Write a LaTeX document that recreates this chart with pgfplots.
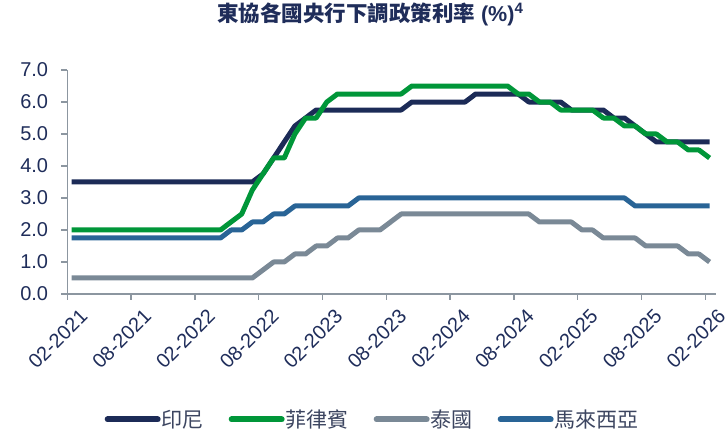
\documentclass[border=0pt]{standalone}
\usepackage{fontspec}
\setmainfont{Liberation Sans}
\newfontfamily\cjk{Noto Sans CJK TC}
\usepackage{pgfplots}
\pgfplotsset{compat=1.18}
\usepackage{pgfplotstable}
\definecolor{idn}{HTML}{1C2B57}
\definecolor{phl}{HTML}{009639}
\definecolor{tha}{HTML}{7A8996}
\definecolor{mys}{HTML}{296496}
\definecolor{axisgray}{HTML}{8C96A0}
\definecolor{txt}{HTML}{1F2D5A}
\definecolor{legtxt}{HTML}{3C4560}
\pgfplotstableread{
x    idn   phl   tha   mys
0.4  3.50  2.00  0.50  1.75
1.4  3.50  2.00  0.50  1.75
2.4  3.50  2.00  0.50  1.75
3.4  3.50  2.00  0.50  1.75
4.4  3.50  2.00  0.50  1.75
5.4  3.50  2.00  0.50  1.75
6.4  3.50  2.00  0.50  1.75
7.4  3.50  2.00  0.50  1.75
8.4  3.50  2.00  0.50  1.75
9.4  3.50  2.00  0.50  1.75
10.4 3.50  2.00  0.50  1.75
11.4 3.50  2.00  0.50  1.75
12.4 3.50  2.00  0.50  1.75
13.4 3.50  2.00  0.50  1.75
14.4 3.50  2.00  0.50  1.75
15.4 3.50  2.25  0.50  2.00
16.4 3.50  2.50  0.50  2.00
17.4 3.50  3.25  0.50  2.25
18.4 3.75  3.75  0.75  2.25
19.4 4.25  4.25  1.00  2.50
20.4 4.75  4.25  1.00  2.50
21.4 5.25  5.00  1.25  2.75
22.4 5.50  5.50  1.25  2.75
23.4 5.75  5.50  1.50  2.75
24.4 5.75  6.00  1.50  2.75
25.4 5.75  6.25  1.75  2.75
26.4 5.75  6.25  1.75  2.75
27.4 5.75  6.25  2.00  3.00
28.4 5.75  6.25  2.00  3.00
29.4 5.75  6.25  2.00  3.00
30.4 5.75  6.25  2.25  3.00
31.4 5.75  6.25  2.50  3.00
32.4 6.00  6.50  2.50  3.00
33.4 6.00  6.50  2.50  3.00
34.4 6.00  6.50  2.50  3.00
35.4 6.00  6.50  2.50  3.00
36.4 6.00  6.50  2.50  3.00
37.4 6.00  6.50  2.50  3.00
38.4 6.25  6.50  2.50  3.00
39.4 6.25  6.50  2.50  3.00
40.4 6.25  6.50  2.50  3.00
41.4 6.25  6.50  2.50  3.00
42.4 6.25  6.25  2.50  3.00
43.4 6.00  6.25  2.50  3.00
44.4 6.00  6.00  2.25  3.00
45.4 6.00  6.00  2.25  3.00
46.4 6.00  5.75  2.25  3.00
47.4 5.75  5.75  2.25  3.00
48.4 5.75  5.75  2.00  3.00
49.4 5.75  5.75  2.00  3.00
50.4 5.75  5.50  1.75  3.00
51.4 5.50  5.50  1.75  3.00
52.4 5.50  5.25  1.75  3.00
53.4 5.25  5.25  1.75  2.75
54.4 5.00  5.00  1.50  2.75
55.4 4.75  5.00  1.50  2.75
56.4 4.75  4.75  1.50  2.75
57.4 4.75  4.75  1.50  2.75
58.4 4.75  4.50  1.25  2.75
59.4 4.75  4.50  1.25  2.75
60.4 4.75  4.25  1.00  2.75
}\rates
\begin{document}
\begin{tikzpicture}
\useasboundingbox (-67.3pt,-136pt) rectangle (658.7pt,294pt);
\begin{axis}[
  at={(0pt,0pt)}, anchor=south west,
  scale only axis, width=648.7pt, height=224pt,
  xmin=0, xmax=61, ymin=0, ymax=7,
  axis x line*=bottom, axis y line*=left,
  axis line style={draw=axisgray, line width=1.3pt},
  tick align=outside, major tick length=6pt,
  tick style={draw=axisgray, line width=1.3pt},
  xtick={0,6,...,60},
  xticklabels={02-2021,08-2021,02-2022,08-2022,02-2023,08-2023,02-2024,08-2024,02-2025,08-2025,02-2026},
  xticklabel style={rotate=45, anchor=east, inner sep=0pt, xshift=2.5pt, yshift=-21pt,
    font=\fontsize{20}{24}\selectfont, text=txt},
  ytick={0,1,...,7},
  yticklabel style={font=\fontsize{20}{24}\selectfont, text=txt, inner sep=0pt, xshift=-13pt},
  /pgf/number format/fixed,
  /pgf/number format/fixed zerofill,
  /pgf/number format/precision=1,
  /pgf/number format/assume math mode=true,
  title={{\cjk\bfseries 東協各國央行下調政策利率} {\bfseries (\%)\textsuperscript{4}}},
  title style={at={(0.467,1.223)}, anchor=center, inner sep=0pt,
    font=\fontsize{21.5}{24}\selectfont, text=txt},
  legend columns=4,
  legend style={at={(0.47,-0.56)}, anchor=center, draw=none, fill=none,
    font=\cjk\fontsize{21}{24}\selectfont, text=legtxt,
    /tikz/every even column/.append style={column sep=24pt},
    nodes={inner sep=1pt}},
  legend image code/.code={\draw[#1, line width=6pt, line cap=round] (3pt,0pt) -- (53pt,0pt);},
  every axis plot/.append style={line width=5pt, line join=round},
]
\addplot[idn] table[x=x, y=idn] {\rates};
\addlegendentry{印尼}
\addplot[phl] table[x=x, y=phl] {\rates};
\addlegendentry{菲律賓}
\addplot[tha] table[x=x, y=tha] {\rates};
\addlegendentry{泰國}
\addplot[mys] table[x=x, y=mys] {\rates};
\addlegendentry{馬來西亞}
\end{axis}
\end{tikzpicture}
\end{document}
